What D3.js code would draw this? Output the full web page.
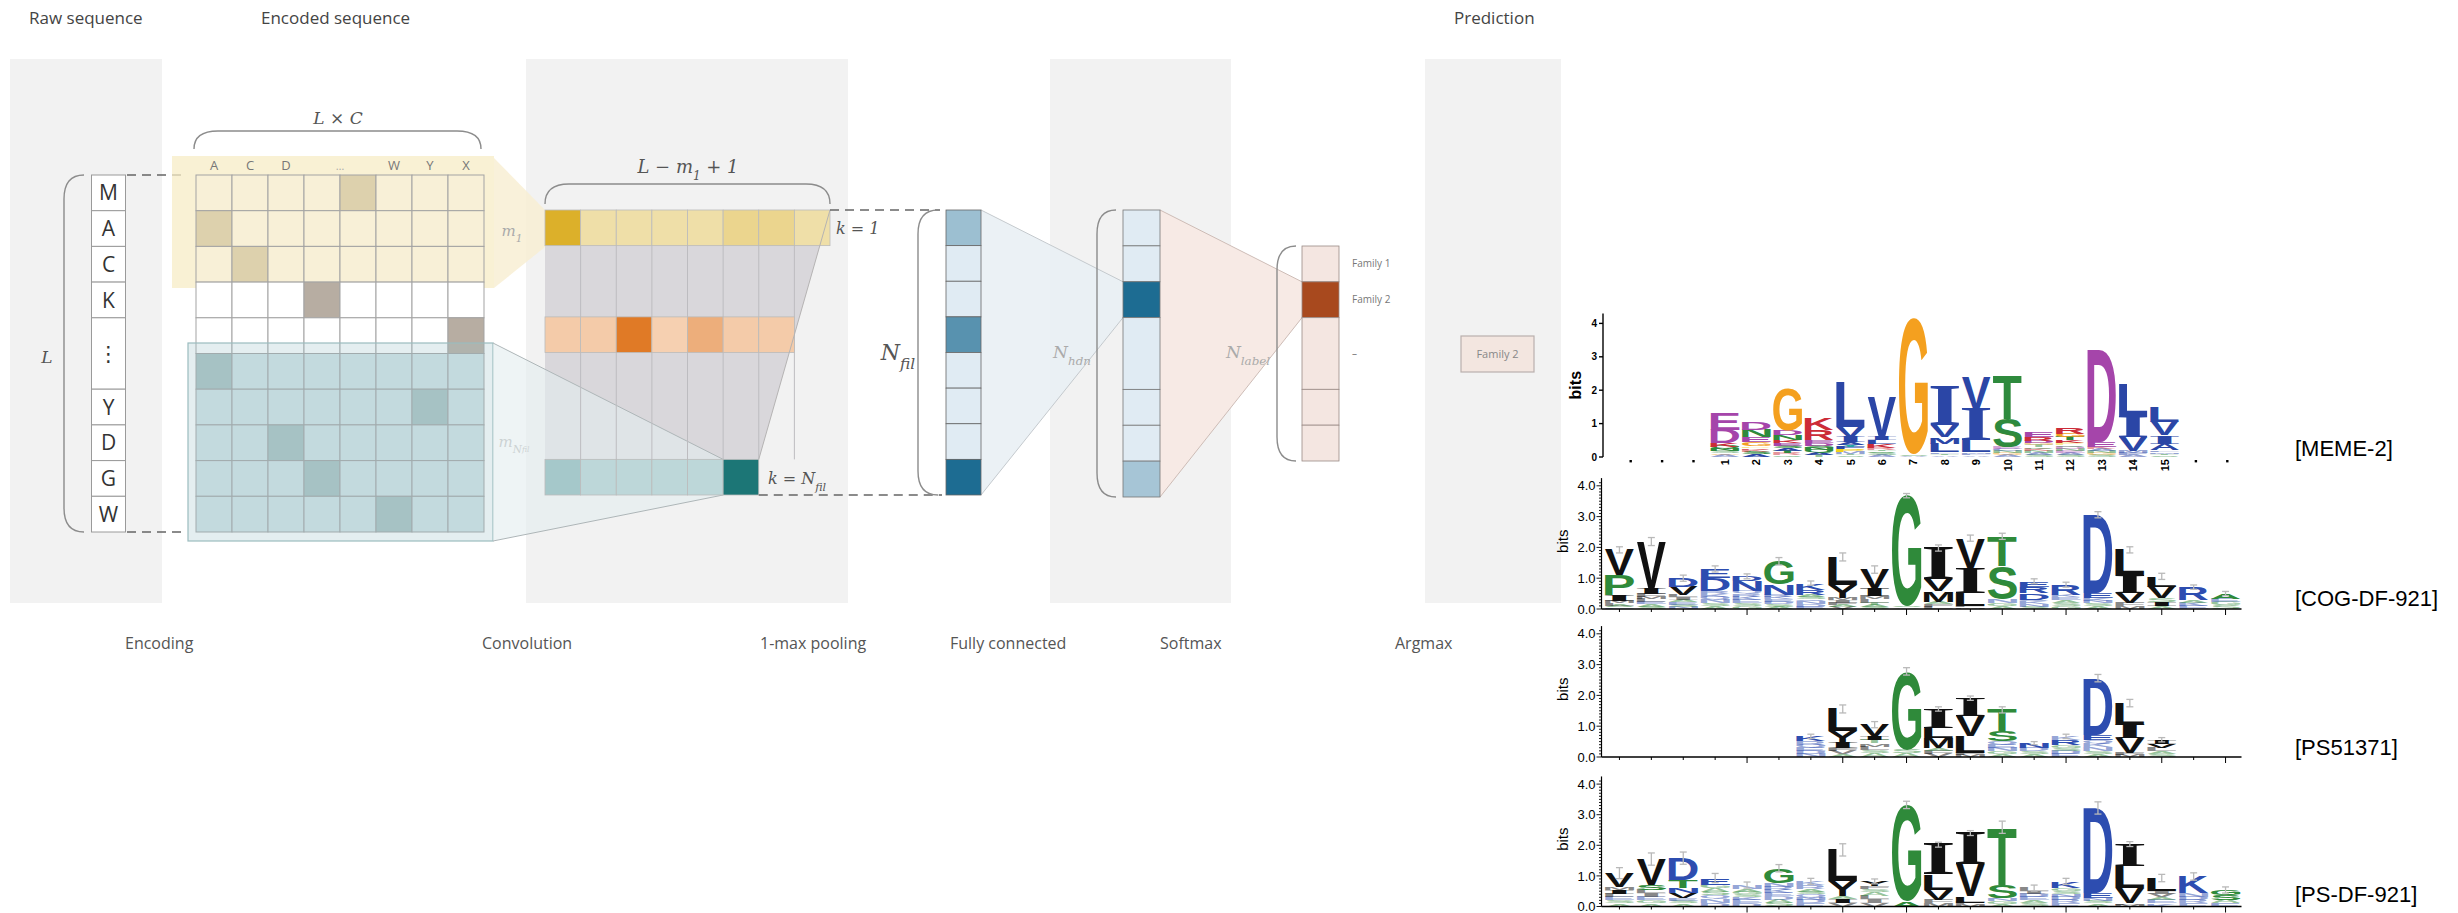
<!DOCTYPE html>
<meta charset="utf-8">
<style>
body { margin: 0; background: #fff; }
svg { display: block; background: #fff; }
.lbl { font-family: 'Open Sans', 'DejaVu Sans', sans-serif; fill: #4a4a4a; }
.math { font-family: 'DejaVu Serif', 'Liberation Serif', serif; font-style: italic; fill: #555; }
.brace { fill: none; stroke: #8c8c8c; stroke-width: 1.4; }
.dash { stroke: #666; stroke-width: 1.6; stroke-dasharray: 9,6; }
.axis { stroke: #000; fill: none; }
</style>
<body>
<svg id="fig" width="2458" height="913"></svg>
<script src="https://cdn.jsdelivr.net/npm/d3@7"></script>
<script>
// ---------- diagram data ----------
var headLabels = ["Raw sequence", "Encoded sequence", "Prediction"];
var stageLabels = ["Encoding", "Convolution", "1-max pooling", "Fully connected", "Softmax", "Argmax"];
var rawSeq = ["M", "A", "C", "K", "\u22EE", "Y", "D", "G", "W"];
var rawSpan = [1, 1, 1, 1, 2, 1, 1, 1, 1];
var encCols = ["A", "C", "D", "", "", "W", "Y", "X"];
var encHot = [4, 0, 1, 3, 7, 0, 6, 2, 3, 5];      // one-hot column of each encoded row
var convK1 = [1, .12, .12, .12, .12, .3, .3, .12];
var convMid = [.15, .15, 1, .1, .45, .15, .15];
var convLast = [.2, .06, .06, .06, .06, 1];
var poolVals = [.35, 0, 0, .7, 0, 0, 0, 1];
var fcVals = [0, 0, 1, 0, 0, 0, .3];
var fcSpan = [1, 1, 1, 2, 1, 1, 1];
var smVals = [0, 1, 0, 0, 0];
var smSpan = [1, 1, 2, 1, 1];
var smLabels = ["Family 1", "Family 2", "\u2013"];
var prediction = "Family 2";

// ---------- logo data (bits, bottom -> top) ----------
var memeLabels = ["", "", "", "1", "2", "3", "4", "5", "6", "7", "8", "9", "10", "11", "12", "13", "14", "15", "", ""];
var memeStacks = [
  [], [], [],
  [["A",.06],["G",.05],["S",.06],["N",.07],["Q",.07],["K",.1],["D",.4],["E",.5]],
  [["A",.08],["S",.08],["K",.06],["R",.05],["P",.05],["G",.12],["E",.15],["N",.22],["D",.24]],
  [["Q",.06],["R",.06],["T",.07],["A",.07],["S",.08],["E",.08],["K",.08],["N",.15],["D",.15],["G",1.25]],
  [["T",.06],["A",.07],["Q",.07],["N",.07],["S",.07],["D",.08],["E",.08],["R",.32],["K",.36]],
  [["S",.05],["T",.05],["M",.06],["P",.07],["F",.07],["Y",.07],["A",.08],["I",.15],["V",.3],["L",1.35]],
  [["A",.06],["S",.06],["Q",.05],["T",.05],["R",.06],["K",.12],["L",.1],["I",.1],["V",1.2]],
  [["A",.04],["S",.04],["G",4.07]],
  [["A",.05],["T",.05],["F",.05],["L",.25],["M",.2],["V",.35],["I",1.15]],
  [["A",.05],["F",.05],["M",.05],["L",.35],["I",.95],["V",.95]],
  [["A",.06],["G",.06],["N",.06],["C",.06],["E",.06],["S",.85],["T",1.33]],
  [["S",.06],["A",.06],["N",.06],["K",.06],["Q",.05],["T",.06],["G",.06],["D",.08],["R",.1],["E",.13]],
  [["S",.06],["A",.06],["E",.06],["N",.06],["D",.06],["Q",.06],["P",.06],["K",.08],["T",.1],["G",.1],["R",.18]],
  [["S",.06],["G",.06],["N",.06],["A",.06],["K",.06],["E",.15],["D",2.75]],
  [["A",.06],["F",.06],["M",.06],["V",.42],["I",.64],["L",.95]],
  [["S",.05],["T",.05],["M",.05],["F",.05],["A",.2],["I",.25],["V",.4],["L",.47]],
  [], []
];
var cogStacks = [
  [["E",.05],["A",.06],["L",.08],["M",.08],["I",.16],["P",.68],["V",.81]],
  [["S",.08],["A",.08],["E",.06],["L",.1],["M",.08],["F",.1],["I",.18],["V",1.51]],
  [["N",.07],["S",.07],["E",.08],["A",.08],["I",.08],["L",.08],["V",.27],["D",.27]],
  [["A",.1],["S",.1],["N",.1],["Q",.09],["K",.09],["R",.09],["D",.43],["E",.3]],
  [["G",.1],["S",.1],["E",.1],["K",.1],["R",.09],["Q",.09],["N",.32],["D",.16]],
  [["A",.08],["S",.08],["D",.08],["E",.08],["K",.08],["R",.07],["N",.32],["G",.76]],
  [["E",.08],["D",.08],["N",.08],["Q",.07],["S",.08],["A",.07],["R",.16],["K",.22]],
  [["V",.06],["A",.06],["F",.06],["I",.1],["M",.08],["Y",.43],["L",.9]],
  [["S",.07],["A",.07],["T",.07],["L",.1],["M",.1],["I",.27],["V",.6]],
  [["A",.05],["S",.05],["G",3.58]],
  [["L",.08],["F",.08],["A",.08],["M",.33],["V",.38],["I",1.03]],
  [["M",.05],["F",.04],["L",.43],["I",.81],["V",.97]],
  [["A",.1],["G",.1],["N",.1],["S",1.08],["T",.98]],
  [["S",.08],["N",.08],["K",.07],["Q",.07],["D",.22],["R",.2],["E",.18]],
  [["G",.1],["S",.1],["A",.09],["E",.09],["K",.09],["R",.32]],
  [["A",.09],["S",.09],["N",.09],["K",.09],["E",.16],["D",2.54]],
  [["M",.1],["F",.1],["V",.32],["I",.59],["L",.81]],
  [["A",.1],["I",.13],["S",.12],["V",.38],["L",.33]],
  [["E",.1],["K",.1],["A",.1],["R",.41]],
  [["S",.12],["G",.11],["E",.11],["A",.16]]
];
var cogErr = [.1,.13,.1,.1,.08,.12,.07,.13,.12,.07,.1,.1,.1,.08,.08,.1,.1,.1,.07,.07];
var ps513Stacks = [
  [], [], [], [], [], [],
  [["N",.1],["D",.1],["E",.1],["Q",.1],["R",.12],["K",.15]],
  [["A",.1],["V",.1],["F",.09],["I",.16],["Y",.38],["L",.73]],
  [["A",.12],["S",.1],["L",.12],["M",.1],["T",.1],["I",.13],["V",.38]],
  [["A",.12],["S",.12],["G",2.54]],
  [["V",.1],["F",.1],["A",.1],["M",.32],["L",.32],["I",.62]],
  [["M",.07],["F",.06],["L",.54],["V",.65],["I",.59]],
  [["A",.1],["G",.1],["N",.1],["E",.1],["Q",.11],["S",.32],["T",.7]],
  [["A",.1],["S",.1],["D",.1],["N",.15]],
  [["E",.1],["D",.1],["S",.1],["G",.1],["R",.15],["K",.12]],
  [["A",.1],["S",.1],["N",.12],["K",.12],["Q",.12],["E",.16],["D",1.84]],
  [["M",.07],["F",.06],["V",.49],["I",.43],["L",.7]],
  [["S",.1],["A",.1],["L",.1],["V",.13],["I",.13]],
  [], []
];
var ps513Err = [0,0,0,0,0,0,.07,.13,.1,.12,.07,.07,.1,.05,.07,.12,.12,.07,0,0];
var psdfStacks = [
  [["A",.1],["S",.1],["E",.12],["L",.1],["I",.13],["M",.1],["V",.44]],
  [["A",.1],["G",.1],["E",.12],["I",.12],["L",.11],["S",.16],["V",.84]],
  [["A",.1],["S",.09],["E",.09],["V",.16],["N",.16],["T",.27],["D",.71]],
  [["D",.12],["N",.12],["Q",.12],["S",.12],["A",.12],["G",.11],["E",.22]],
  [["D",.1],["E",.1],["K",.1],["S",.1],["G",.09],["A",.09],["N",.12]],
  [["S",.11],["A",.11],["D",.11],["E",.11],["K",.11],["R",.1],["N",.11],["G",.49]],
  [["E",.1],["D",.1],["N",.1],["Q",.1],["S",.09],["A",.09],["R",.12],["K",.12]],
  [["V",.1],["I",.13],["A",.1],["Y",.49],["L",1.03]],
  [["V",.12],["I",.12],["L",.11],["A",.11],["S",.1],["F",.1],["Y",.16]],
  [["A",.16],["G",3.16]],
  [["M",.11],["F",.11],["V",.33],["L",.49],["I",.98]],
  [["M",.07],["F",.06],["L",.2],["V",1.03],["I",1.04]],
  [["A",.09],["G",.09],["N",.09],["S",.44],["T",1.88]],
  [["S",.1],["A",.1],["E",.1],["D",.1],["I",.1],["L",.1]],
  [["E",.1],["R",.1],["D",.1],["N",.1],["S",.1],["G",.1],["K",.22]],
  [["A",.1],["S",.09],["N",.09],["E",.16],["D",2.78]],
  [["M",.06],["F",.05],["V",.49],["L",.71],["I",.73]],
  [["K",.1],["E",.1],["A",.1],["V",.1],["I",.1],["L",.43]],
  [["E",.1],["R",.1],["D",.12],["N",.12],["K",.54]],
  [["E",.1],["A",.12],["S",.16],["G",.16]]
];
var psdfErr = [.18,.2,.2,.15,.1,.12,.1,.2,.08,.12,.08,.08,.2,.1,.1,.2,.08,.12,.12,.1];
var majorTicks = [4, 7, 9, 12, 14, 17, 19];
var yTicks = [0, 1, 2, 3, 4];

var memeColors = {A:"#2b46a6",C:"#2b46a6",F:"#2b46a6",I:"#2b46a6",L:"#2b46a6",M:"#2b46a6",V:"#2b46a6",W:"#2b46a6",
  N:"#2e8a3d",Q:"#2e8a3d",S:"#2e8a3d",T:"#2e8a3d",D:"#a545aa",E:"#a545aa",K:"#cc2b38",R:"#cc2b38",
  H:"#e88ea0",G:"#f4a01f",P:"#f2d21a",Y:"#22a5a6"};
var hydroColors = {R:"#2d4db0",K:"#2d4db0",D:"#2d4db0",E:"#2d4db0",N:"#2d4db0",Q:"#2d4db0",
  S:"#2f8a3a",G:"#2f8a3a",H:"#2f8a3a",T:"#2f8a3a",A:"#2f8a3a",P:"#2f8a3a",
  Y:"#111",V:"#111",M:"#111",C:"#111",L:"#111",F:"#111",I:"#111",W:"#111"};

var svg = d3.select("#fig");

// ---------- helpers ----------
function hBrace(x0, x1, yTop, yBot) {
  var r = 24;
  return "M" + x0 + "," + yBot + " Q" + x0 + "," + yTop + " " + (x0 + r) + "," + yTop +
    " L" + (x1 - r) + "," + yTop + " Q" + x1 + "," + yTop + " " + x1 + "," + yBot;
}
function vBrace(xl, xr, y0, y1) {
  var r = 24;
  return "M" + xr + "," + y0 + " Q" + xl + "," + y0 + " " + xl + "," + (y0 + r) +
    " L" + xl + "," + (y1 - r) + " Q" + xl + "," + y1 + " " + xr + "," + y1;
}
function spanEdges(spans, scale) {
  var acc = 0, out = [];
  spans.forEach(function(s) { out.push([scale(acc), scale(acc + s)]); acc += s; });
  return out;
}
function mathLabel(g, x, y, base, sub, size, color, subsub) {
  var t = g.append("text").attr("class", "math").attr("x", x).attr("y", y)
    .attr("text-anchor", "middle").style("font-size", size + "px").style("fill", color);
  t.append("tspan").text(base);
  t.append("tspan").text(sub).attr("baseline-shift", "sub").style("font-size", (size * 0.7) + "px");
  if (subsub) t.append("tspan").text(subsub).attr("baseline-shift", "sub").style("font-size", (size * 0.5) + "px");
  return t;
}

// ---------- panels ----------
var panels = [[10, 162], [526, 848], [1050, 1231], [1425, 1561]];
svg.selectAll("rect.panel").data(panels).enter().append("rect").attr("class", "panel")
  .attr("x", function(d) { return d[0]; }).attr("y", 59)
  .attr("width", function(d) { return d[1] - d[0]; }).attr("height", 544)
  .attr("fill", "#f2f2f2");

// headings
var headX = [29, 261, 1454];
svg.selectAll("text.head").data(headLabels).enter().append("text").attr("class", "lbl head")
  .attr("x", function(d, i) { return headX[i]; }).attr("y", 24)
  .style("font-size", "17px").style("fill", "#444").text(function(d) { return d; });
var stageX = [125, 482, 760, 950, 1160, 1395];
svg.selectAll("text.stage").data(stageLabels).enter().append("text").attr("class", "lbl stage")
  .attr("x", function(d, i) { return stageX[i]; }).attr("y", 649)
  .style("font-size", "16px").style("fill", "#555").text(function(d) { return d; });

// ---------- raw sequence ----------
var rowY = d3.scaleLinear().domain([0, 10]).range([175, 532]);
var rawEdges = spanEdges(rawSpan, rowY);
var raw = svg.append("g");
raw.selectAll("rect").data(rawSeq).enter().append("rect")
  .attr("x", 91.5).attr("width", 34)
  .attr("y", function(d, i) { return rawEdges[i][0]; })
  .attr("height", function(d, i) { return rawEdges[i][1] - rawEdges[i][0]; })
  .attr("fill", "#fff").attr("stroke", "#9a9a9a");
raw.selectAll("text").data(rawSeq).enter().append("text").attr("class", "lbl")
  .attr("x", 108.5).attr("y", function(d, i) { return (rawEdges[i][0] + rawEdges[i][1]) / 2; })
  .attr("text-anchor", "middle").attr("dy", "0.36em")
  .style("font-size", "21px").style("fill", "#333").text(function(d) { return d; });
svg.append("path").attr("class", "brace").attr("d", vBrace(64, 84, rowY(0), rowY(10)));
svg.append("text").attr("class", "math").attr("x", 47).attr("y", 363).attr("text-anchor", "middle")
  .style("font-size", "17px").text("L");
svg.append("line").attr("class", "dash").attr("x1", 127).attr("x2", 182).attr("y1", rowY(0)).attr("y2", rowY(0));
svg.append("line").attr("class", "dash").attr("x1", 127).attr("x2", 182).attr("y1", rowY(10)).attr("y2", rowY(10));

// ---------- encoded matrix ----------
var encX = d3.scaleLinear().domain([0, 8]).range([196, 484]);
var enc = svg.append("g");
enc.append("rect").attr("x", 172).attr("y", 156).attr("width", 322).attr("height", 132)
  .attr("fill", "#f7ecc6").attr("opacity", 0.75);
enc.append("polygon").attr("points", [[494, 158], [545, 210], [545, 247], [494, 288]].join(" "))
  .attr("fill", "#f8efd3").attr("opacity", 0.85);
var cells = [];
d3.range(10).forEach(function(r) {
  d3.range(8).forEach(function(c) { cells.push({r: r, c: c, hot: encHot[r] === c}); });
});
function encFill(d) {
  if (d.r < 3) return d.hot ? "#ddd1ad" : "#f8f0d7";
  if (d.r < 5) return d.hot ? "#b7ada2" : "#ffffff";
  return d.hot ? "#a9c2c2" : "#d2e3e6";
}
enc.selectAll("rect.cell").data(cells).enter().append("rect").attr("class", "cell")
  .attr("x", function(d) { return encX(d.c); }).attr("y", function(d) { return rowY(d.r); })
  .attr("width", encX(1) - encX(0)).attr("height", rowY(1) - rowY(0))
  .attr("fill", encFill).attr("stroke", "#a3a3a3").attr("stroke-width", 1);
enc.append("rect").attr("x", 188).attr("y", 343).attr("width", 305).attr("height", 198)
  .attr("fill", "#9fc3c8").attr("fill-opacity", 0.28).attr("stroke", "#9bbcbf").attr("stroke-width", 1.2);
enc.selectAll("text.col").data(encCols).enter().append("text").attr("class", "lbl col")
  .attr("x", function(d, i) { return encX(i + 0.5); }).attr("y", 170).attr("text-anchor", "middle")
  .style("font-size", "13px").style("fill", "#777").text(function(d) { return d; });
enc.append("text").attr("class", "lbl").attr("x", encX(4)).attr("y", 170).attr("text-anchor", "middle")
  .style("font-size", "11px").style("fill", "#aaa").text("\u2026");
svg.append("path").attr("class", "brace").attr("d", hBrace(194, 481, 131, 149));
svg.append("text").attr("class", "math").attr("x", 338).attr("y", 124).attr("text-anchor", "middle")
  .style("font-size", "17px").text("L \u00D7 C");
mathLabel(svg, 512, 236, "m", "1", 15, "#aaa");
mathLabel(svg, 514, 447, "m", "N", 15, "#aaa", "fil");

// ---------- convolution ----------
var convX = d3.scaleLinear().domain([0, 8]).range([545, 830]);
var convY = d3.scaleLinear().domain([0, 8]).range([210, 495]);
var conv = svg.append("g");
conv.append("polygon").attr("points", [[convX(0), convY(1)], [convX(8), convY(0)], [convX(6), convY(7)], [convX(0), convY(7)]].join(" "))
  .attr("fill", "#d9d7db");
conv.append("polygon").attr("points", [[493, 343], [convX(5), convY(7)], [convX(5), convY(8)], [493, 541]].join(" "))
  .attr("fill", "#e3ecee").attr("opacity", 0.6);
conv.append("line").attr("x1", 493).attr("y1", 343).attr("x2", convX(5)).attr("y2", convY(7)).attr("stroke", "#aeb6b8");
conv.append("line").attr("x1", 493).attr("y1", 541).attr("x2", convX(5)).attr("y2", convY(8)).attr("stroke", "#aeb6b8");
d3.range(1, 8).forEach(function(c) {
  conv.append("line").attr("x1", convX(c)).attr("x2", convX(c)).attr("y1", convY(1)).attr("y2", convY(7))
    .attr("stroke", "#bdbcc0");
});
var yel = d3.interpolateRgb("#f2e5b9", "#dcb02a");
var org = d3.interpolateRgb("#f8d9c0", "#e07a26");
var tea = d3.interpolateRgb("#c7dddf", "#1c7676");
function convRow(vals, row, interp) {
  conv.selectAll(null).data(vals).enter().append("rect")
    .attr("x", function(d, i) { return convX(i); }).attr("y", convY(row))
    .attr("width", convX(1) - convX(0)).attr("height", convY(1) - convY(0))
    .attr("fill", function(d) { return interp(d); }).attr("stroke", "#bbb").attr("stroke-width", 0.8);
}
convRow(convK1, 0, yel);
convRow(convMid, 3, org);
convRow(convLast, 7, tea);
conv.append("line").attr("x1", convX(8)).attr("y1", convY(0)).attr("x2", convX(6)).attr("y2", convY(7)).attr("stroke", "#b5b3b3");
svg.append("path").attr("class", "brace").attr("d", hBrace(convX(0), convX(8), 184, 204));
var lm = svg.append("text").attr("class", "math").attr("x", 688).attr("y", 173).attr("text-anchor", "middle").style("font-size", "18px");
lm.append("tspan").text("L \u2212 m");
lm.append("tspan").text("1").attr("baseline-shift", "sub").style("font-size", "12px");
lm.append("tspan").text(" + 1");
svg.append("text").attr("class", "math").attr("x", 836).attr("y", 234).style("font-size", "16px").text("k = 1");
var kn = svg.append("text").attr("class", "math").attr("x", 768).attr("y", 484).style("font-size", "16px");
kn.append("tspan").text("k = N");
kn.append("tspan").text("fil").attr("baseline-shift", "sub").style("font-size", "11px");
svg.append("line").attr("class", "dash").attr("x1", convX(8)).attr("x2", 940).attr("y1", convY(0)).attr("y2", convY(0));
svg.append("line").attr("class", "dash").attr("x1", convX(6)).attr("x2", 942).attr("y1", convY(8)).attr("y2", convY(8));

// ---------- 1-max pooling ----------
var poolY = d3.scaleLinear().domain([0, 8]).range([210, 495]);
var blu = d3.interpolateRgb("#e0ebf3", "#1d6c92");
var fcY = d3.scaleLinear().domain([0, 8]).range([210, 497]);
var fcEdges = spanEdges(fcSpan, fcY);
svg.append("polygon").attr("points", [[981, 210], [1123, fcEdges[2][0]], [1123, fcEdges[2][1]], [981, 495]].join(" "))
  .attr("fill", "#e9eff4").attr("opacity", 0.9);
svg.append("line").attr("x1", 981).attr("y1", 210).attr("x2", 1123).attr("y2", fcEdges[2][0]).attr("stroke", "#c4c9cd");
svg.append("line").attr("x1", 981).attr("y1", 495).attr("x2", 1123).attr("y2", fcEdges[2][1]).attr("stroke", "#c4c9cd");
svg.selectAll("rect.pool").data(poolVals).enter().append("rect").attr("class", "pool")
  .attr("x", 946).attr("width", 35).attr("y", function(d, i) { return poolY(i); })
  .attr("height", poolY(1) - poolY(0)).attr("fill", function(d) { return blu(d); })
  .attr("stroke", "#666").attr("stroke-width", 0.8);
svg.append("path").attr("class", "brace").attr("d", vBrace(918, 938, 210, 495));
mathLabel(svg, 898, 360, "N", "fil", 22, "#555");

// ---------- fully connected ----------
var smY = d3.scaleLinear().domain([0, 6]).range([246, 461]);
var smEdges = spanEdges(smSpan, smY);
svg.append("polygon").attr("points", [[1160, 210], [1302, smEdges[1][0]], [1302, smEdges[1][1]], [1160, 497]].join(" "))
  .attr("fill", "#f7e9e4").attr("opacity", 0.95);
svg.append("line").attr("x1", 1160).attr("y1", 210).attr("x2", 1302).attr("y2", smEdges[1][0]).attr("stroke", "#cdbcb6");
svg.append("line").attr("x1", 1160).attr("y1", 497).attr("x2", 1302).attr("y2", smEdges[1][1]).attr("stroke", "#cdbcb6");
svg.selectAll("rect.fc").data(fcVals).enter().append("rect").attr("class", "fc")
  .attr("x", 1123).attr("width", 37).attr("y", function(d, i) { return fcEdges[i][0]; })
  .attr("height", function(d, i) { return fcEdges[i][1] - fcEdges[i][0]; })
  .attr("fill", function(d) { return blu(d); }).attr("stroke", "#777").attr("stroke-width", 0.8);
svg.append("path").attr("class", "brace").attr("d", vBrace(1097, 1116, 210, 497));
mathLabel(svg, 1072, 358, "N", "hdn", 17, "#aaa");

// ---------- softmax ----------
var brn = d3.interpolateRgb("#f4e6e1", "#a8491e");
svg.selectAll("rect.sm").data(smVals).enter().append("rect").attr("class", "sm")
  .attr("x", 1302).attr("width", 37).attr("y", function(d, i) { return smEdges[i][0]; })
  .attr("height", function(d, i) { return smEdges[i][1] - smEdges[i][0]; })
  .attr("fill", function(d) { return brn(d); }).attr("stroke", "#9a8a85").attr("stroke-width", 0.8);
svg.append("path").attr("class", "brace").attr("d", vBrace(1277, 1296, 246, 461));
mathLabel(svg, 1248, 358, "N", "label", 17, "#aaa");
svg.selectAll("text.fam").data(smLabels).enter().append("text").attr("class", "lbl fam")
  .attr("x", 1352).attr("y", function(d, i) { return (smEdges[i][0] + smEdges[i][1]) / 2; })
  .attr("dy", "0.35em").style("font-size", "10px").style("fill", "#777").text(function(d) { return d; });

// ---------- argmax / prediction ----------
svg.append("rect").attr("x", 1461).attr("y", 336).attr("width", 73).attr("height", 36)
  .attr("fill", "#f3e6e0").attr("stroke", "#b9b0ad").attr("stroke-width", 1.2);
svg.append("text").attr("class", "lbl").attr("x", 1497.5).attr("y", 354).attr("dy", "0.35em")
  .attr("text-anchor", "middle").style("font-size", "11px").style("fill", "#888").text(prediction);

// ---------- sequence logos ----------
var ctx = document.createElement("canvas").getContext("2d");
var SANS = "'Liberation Sans', Arial, sans-serif";
var SERIF = "'Liberation Serif', 'DejaVu Serif', serif";   // serifed I like the logo tools draw
function letterFont(ch) { return ch === "I" ? SERIF : SANS; }
var boxCache = {};
function glyphBox(ch) {
  if (boxCache[ch]) return boxCache[ch];
  ctx.font = "bold 100px " + letterFont(ch);
  var m = ctx.measureText(ch);
  boxCache[ch] = {l: m.actualBoundingBoxLeft, r: m.actualBoundingBoxRight, a: m.actualBoundingBoxAscent, d: m.actualBoundingBoxDescent};
  return boxCache[ch];
}
function putLetter(g, ch, color, x0, x1, yTop, yBot, op) {
  if (yBot - yTop < 0.4) return;
  var b = glyphBox(ch);
  var sx = (x1 - x0) / (b.l + b.r), sy = (yBot - yTop) / (b.a + b.d);
  g.append("text").text(ch)
    .attr("transform", "translate(" + (x0 + b.l * sx) + "," + (yBot - b.d * sy) + ") scale(" + sx + "," + sy + ")")
    .style("font", "bold 100px " + letterFont(ch)).attr("fill", color).attr("fill-opacity", op);
}
function drawStacks(g, stacks, x, y, colors, fadeBelow) {
  var lw = x.bandwidth() * 0.92;
  stacks.forEach(function(col, i) {
    var acc = 0;
    var cx = x(i) + x.bandwidth() / 2;
    col.forEach(function(p) {
      putLetter(g, p[0], colors[p[0]], cx - lw / 2, cx + lw / 2, y(acc + p[1]), y(acc), p[1] < fadeBelow ? 0.5 : 1);
      acc += p[1];
    });
  });
}

function memeLogo(o) {
  var g = svg.append("g");
  var x = d3.scaleBand().domain(d3.range(memeStacks.length)).range([o.x0, o.x0 + memeStacks.length * o.band]);
  var y = d3.scaleLinear().domain([0, 4]).range([o.y0, o.y0 - 4 * o.bit]);
  drawStacks(g, memeStacks, x, y, memeColors, 0.07);
  var ax = o.x0 - 12;
  g.append("line").attr("class", "axis").attr("x1", ax).attr("x2", ax).attr("y1", y(4.3)).attr("y2", y(0)).attr("stroke-width", 1.4);
  g.selectAll("line.tk").data(yTicks).enter().append("line").attr("class", "axis")
    .attr("x1", ax - 4).attr("x2", ax).attr("y1", function(d) { return y(d); }).attr("y2", function(d) { return y(d); }).attr("stroke-width", 1.4);
  g.selectAll("text.tk").data(yTicks).enter().append("text")
    .attr("x", ax - 6).attr("y", function(d) { return y(d); }).attr("dy", "0.35em").attr("text-anchor", "end")
    .style("font", "bold 10px " + SANS).text(function(d) { return d; });
  g.append("text").attr("transform", "translate(" + (ax - 22) + "," + y(2.15) + ") rotate(-90)")
    .attr("text-anchor", "middle").style("font", "bold 16px " + SANS).text("bits");
  memeLabels.forEach(function(l, i) {
    var cx = x(i) + x.bandwidth() / 2;
    if (l === "") {
      g.append("rect").attr("x", cx - 1.2).attr("y", o.y0 + 3).attr("width", 2.4).attr("height", 2.4).attr("fill", "#000");
    } else {
      g.append("text").attr("transform", "translate(" + (cx + 4) + "," + (o.y0 + 2) + ") rotate(-90)")
        .attr("text-anchor", "end").style("font", "bold 11px " + SANS).text(l);
    }
  });
  g.append("text").attr("x", 2295).attr("y", o.y0 - 1).style("font", "22px " + SANS).text(o.label);
}

function webLogo(o) {
  var g = svg.append("g");
  var n = o.stacks.length;
  var x = d3.scaleBand().domain(d3.range(n)).range([o.x0, o.x0 + n * o.band]);
  var y = d3.scaleLinear().domain([0, 4]).range([o.y0, o.y0 - 4 * o.bit]);
  drawStacks(g, o.stacks, x, y, hydroColors, 0.13);
  // error bars
  o.stacks.forEach(function(col, i) {
    if (!col.length) return;
    var top = d3.sum(col, function(p) { return p[1]; });
    var cx = x(i) + x.bandwidth() / 2, e = o.errs[i];
    var eb = g.append("g").attr("stroke", "#b9b9b9").attr("stroke-width", 1.3);
    eb.append("line").attr("x1", cx).attr("x2", cx).attr("y1", y(top + e)).attr("y2", y(top - e));
    eb.append("line").attr("x1", cx - 3.5).attr("x2", cx + 3.5).attr("y1", y(top + e)).attr("y2", y(top + e));
    eb.append("line").attr("x1", cx - 3.5).attr("x2", cx + 3.5).attr("y1", y(top - e)).attr("y2", y(top - e));
  });
  var ax = o.x0 - 2;
  g.append("line").attr("class", "axis").attr("x1", ax).attr("x2", ax).attr("y1", y(4.25)).attr("y2", y(0)).attr("stroke-width", 1.2);
  g.append("line").attr("class", "axis").attr("x1", ax).attr("x2", o.x0 + n * o.band).attr("y1", y(0)).attr("y2", y(0)).attr("stroke-width", 1.5).attr("stroke", "#555");
  var minor = d3.range(0, 42).map(function(k) { return k / 10; });
  g.selectAll("line.mn").data(minor).enter().append("line").attr("class", "axis")
    .attr("x1", function(d) { return d % 1 === 0 ? ax - 5 : ax - 2.5; }).attr("x2", ax)
    .attr("y1", function(d) { return y(d); }).attr("y2", function(d) { return y(d); }).attr("stroke-width", 0.9);
  g.selectAll("text.tk").data(yTicks).enter().append("text")
    .attr("x", ax - 6).attr("y", function(d) { return y(d); }).attr("dy", "0.36em").attr("text-anchor", "end")
    .style("font", "13px " + SANS).text(function(d) { return d.toFixed(1); });
  g.append("text").attr("transform", "translate(" + (ax - 34) + "," + y(2.2) + ") rotate(-90)")
    .attr("text-anchor", "middle").style("font", "15px " + SANS).text("bits");
  d3.range(n).forEach(function(i) {
    var cx = x(i) + x.bandwidth() / 2;
    var len = majorTicks.indexOf(i) >= 0 ? 6 : 3;
    g.append("line").attr("class", "axis").attr("x1", cx).attr("x2", cx).attr("y1", o.y0).attr("y2", o.y0 + len).attr("stroke-width", 1);
  });
  g.append("text").attr("x", 2295).attr("y", o.labelY).style("font", "22px " + SANS).text(o.label);
}

memeLogo({x0: 1615, band: 31.4, y0: 457, bit: 33.4, label: "[MEME-2]"});
webLogo({stacks: cogStacks, errs: cogErr, x0: 1603.5, band: 31.9, y0: 609, bit: 30.8, label: "[COG-DF-921]", labelY: 606});
webLogo({stacks: ps513Stacks, errs: ps513Err, x0: 1603.5, band: 31.9, y0: 757, bit: 30.8, label: "[PS51371]", labelY: 755});
webLogo({stacks: psdfStacks, errs: psdfErr, x0: 1603.5, band: 31.9, y0: 906.5, bit: 30.6, label: "[PS-DF-921]", labelY: 902});
</script>
</body>
